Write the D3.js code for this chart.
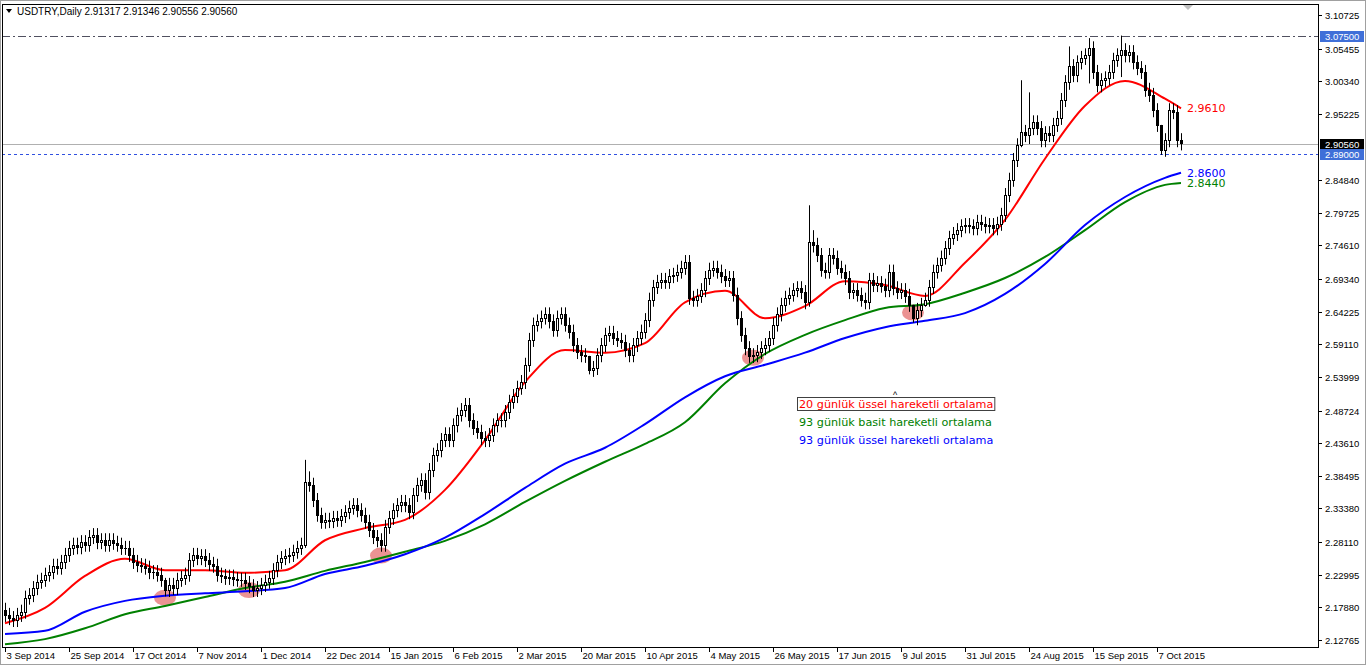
<!DOCTYPE html>
<html><head><meta charset="utf-8">
<script src="https://cdn.jsdelivr.net/npm/d3@7"></script>
<style>body{margin:0;background:#fff}svg{display:block}</style>
</head><body>
<svg id="c" width="1366" height="665"></svg>
<script>
const closes=[2.167,2.162,2.159,2.167,2.172,2.194,2.198,2.209,2.219,2.222,2.230,2.234,2.244,2.241,2.250,2.261,2.272,2.277,2.273,2.281,
2.277,2.289,2.292,2.281,2.284,2.277,2.284,2.280,2.277,2.272,2.272,2.261,2.250,2.245,2.244,2.241,2.234,2.234,2.230,2.222,
2.206,2.214,2.209,2.222,2.225,2.230,2.253,2.261,2.256,2.259,2.253,2.247,2.244,2.230,2.228,2.225,2.227,2.223,2.222,2.222,
2.217,2.212,2.206,2.209,2.214,2.219,2.225,2.237,2.250,2.256,2.259,2.261,2.266,2.272,2.277,2.375,2.371,2.347,2.324,2.313,
2.316,2.314,2.319,2.316,2.322,2.328,2.335,2.339,2.331,2.324,2.313,2.300,2.289,2.284,2.277,2.305,2.319,2.331,2.339,2.344,
2.339,2.328,2.355,2.371,2.378,2.359,2.394,2.418,2.425,2.441,2.450,2.441,2.464,2.481,2.488,2.496,2.472,2.460,2.454,2.444,
2.441,2.449,2.464,2.472,2.472,2.485,2.501,2.510,2.523,2.532,2.559,2.598,2.622,2.627,2.633,2.638,2.627,2.614,2.633,2.638,
2.622,2.611,2.590,2.579,2.574,2.573,2.551,2.554,2.574,2.590,2.606,2.609,2.601,2.598,2.595,2.582,2.574,2.590,2.601,2.611,
2.629,2.661,2.681,2.689,2.692,2.689,2.698,2.700,2.705,2.711,2.720,2.664,2.661,2.667,2.676,2.695,2.708,2.711,2.705,2.698,
2.692,2.695,2.669,2.632,2.606,2.585,2.573,2.574,2.579,2.585,2.590,2.601,2.622,2.638,2.653,2.664,2.669,2.676,2.679,2.673,
2.657,2.751,2.747,2.731,2.708,2.705,2.731,2.727,2.711,2.705,2.695,2.673,2.676,2.669,2.661,2.657,2.692,2.684,2.687,2.683,
2.676,2.705,2.679,2.673,2.676,2.667,2.653,2.632,2.645,2.653,2.661,2.681,2.705,2.716,2.727,2.742,2.758,2.764,2.770,2.776,
2.778,2.776,2.773,2.783,2.780,2.776,2.778,2.773,2.780,2.794,2.825,2.849,2.880,2.903,2.924,2.919,2.930,2.939,2.930,2.911,
2.922,2.919,2.935,2.946,2.974,3.002,3.027,3.013,3.033,3.040,3.044,3.055,3.018,2.997,3.005,3.008,3.018,3.037,3.044,3.052,
3.044,3.049,3.033,3.024,3.018,2.990,2.982,2.958,2.935,2.896,2.911,2.958,2.955,2.911,2.906];
const firstOpen=2.175;
const wickIdx=[40,75,76,146,201,202,254,256,266,271,279,289,230,227];
const wickHigh=[2.225,2.410,2.392,2.566,2.809,2.770,3.005,2.986,3.058,3.071,3.075,2.935,2.672,2.652];
const wickLow=[2.196,2.272,2.360,2.544,2.650,2.735,2.900,2.905,2.990,3.000,3.010,2.888,2.650,2.625];
const maIdx=[0,10,20,30,40,50,60,70,80,90,100,110,120,130,140,150,160,170,180,190,200,210,220,230,240,250,260,270,280,290,294];
const ema20=[2.154,2.178,2.228,2.255,2.237,2.237,2.233,2.237,2.284,2.303,2.316,2.363,2.441,2.532,2.582,2.578,2.593,2.657,2.675,2.632,2.651,2.690,2.684,2.667,2.719,2.786,2.882,2.965,3.004,2.976,2.961];
const ema93=[2.137,2.142,2.172,2.189,2.197,2.201,2.204,2.209,2.231,2.244,2.262,2.288,2.325,2.366,2.404,2.429,2.466,2.508,2.541,2.559,2.578,2.601,2.618,2.628,2.640,2.670,2.717,2.778,2.822,2.852,2.860];
const sma93=[2.121,2.129,2.146,2.168,2.181,2.195,2.209,2.219,2.236,2.250,2.266,2.283,2.309,2.344,2.377,2.407,2.435,2.469,2.530,2.576,2.606,2.629,2.648,2.654,2.672,2.695,2.728,2.770,2.814,2.841,2.844];
const priceTicks=[3.10725,3.05455,3.00340,2.95225,2.84840,2.79725,2.74610,2.69340,2.64225,2.59110,2.53999,2.48724,2.43610,2.38495,2.33380,2.28110,2.22995,2.17880,2.12765];
const dateIdx=[0,16,32,48,64,80,96,112,128,144,160,176,192,208,224,240,256,272,288];
const dateLabels=["3 Sep 2014","25 Sep 2014","17 Oct 2014","7 Nov 2014","1 Dec 2014","22 Dec 2014","15 Jan 2015","6 Feb 2015","2 Mar 2015","20 Mar 2015","10 Apr 2015","4 May 2015","26 May 2015","17 Jun 2015","9 Jul 2015","31 Jul 2015","24 Aug 2015","15 Sep 2015","7 Oct 2015"];
const circleIdx=[40,61,94,187,227];
const circlePrice=[2.194,2.206,2.260,2.570,2.641];
const hLines={resist:3.075,support:2.890,last:2.9056};
const legend=[["20 günlük üssel hareketli ortalama","#ff0000"],["93 günlük basit hareketli ortalama","#008000"],["93 günlük üssel hareketli ortalama","#0000ff"]];

const svg=d3.select("#c");
const L=2,R=1318,T=4,B=647;
const x=d3.scaleLinear().domain([0,294]).range([5,1181]);
const y=d3.scaleLinear().domain([2.12765,3.10725]).range([640,15]);
const font="'Liberation Sans',Arial,sans-serif";
svg.append("rect").attr("x",0.5).attr("y",0.5).attr("width",1365).attr("height",664).attr("fill","#fff").attr("stroke","#a0a0a0");
svg.append("rect").attr("x",L+0.5).attr("y",T+0.5).attr("width",R-L).attr("height",B-T).attr("fill","none").attr("stroke","#000");
const g=svg.append("g");
g.append("clipPath").attr("id","cp").append("rect").attr("x",L+1).attr("y",T+1).attr("width",R-L-1).attr("height",B-T-1);
const pg=g.append("g").attr("clip-path","url(#cp)");

pg.append("line").attr("x1",L).attr("x2",R).attr("y1",Math.round(y(hLines.resist))+0.5).attr("y2",Math.round(y(hLines.resist))+0.5).attr("stroke","#505060").attr("stroke-dasharray","8,3,2,3");
pg.append("line").attr("x1",L).attr("x2",R).attr("y1",Math.round(y(hLines.last))+0.5).attr("y2",Math.round(y(hLines.last))+0.5).attr("stroke","#b0b0b0");
pg.append("line").attr("x1",L).attr("x2",R).attr("y1",Math.round(y(hLines.support))+0.5).attr("y2",Math.round(y(hLines.support))+0.5).attr("stroke","#3050e0").attr("stroke-dasharray","3,3");

circleIdx.forEach((d,i)=>pg.append("ellipse").attr("cx",x(d)).attr("cy",y(circlePrice[i])).attr("rx",11).attr("ry",8).attr("fill","#e88080").attr("opacity",0.85));

const mk=(arr,col)=>pg.append("path").datum(arr.map((v,i)=>[maIdx[i],v])).attr("fill","none").attr("stroke",col).attr("stroke-width",2)
 .attr("d",d3.line().x(d=>x(d[0])).y(d=>y(d[1])).curve(d3.curveMonotoneX));
mk(sma93,"#008000");mk(ema93,"#0000ff");mk(ema20,"#ff0000");

const defW=0.011;
closes.forEach((c,i)=>{
  const o=i===0?firstOpen:closes[i-1];
  const k=wickIdx.indexOf(i);
  let h=Math.max(o,c)+defW,l=Math.min(o,c)-defW;
  if(k>=0){h=Math.max(wickHigh[k],Math.max(o,c));l=Math.min(wickLow[k],Math.min(o,c));}
  const cx=Math.round(x(i))+0.5;
  pg.append("line").attr("x1",cx).attr("x2",cx).attr("y1",y(h)).attr("y2",y(l)).attr("stroke","#000");
  const top=Math.round(y(Math.max(o,c))),bot=Math.round(y(Math.min(o,c)));
  pg.append("rect").attr("x",cx-1).attr("y",top+0.5).attr("width",2).attr("height",Math.max(bot-top,0.01))
   .attr("fill",c>=o?"#fff":"#000").attr("stroke","#000");
});

[[ema20,"#ff0000","2.9610"],[ema93,"#0000ff","2.8600"],[sma93,"#008000","2.8440"]].forEach(([a,col,t])=>{
  g.append("text").attr("x",1187).attr("y",y(a[a.length-1])+4).attr("fill",col).attr("font-family","'DejaVu Sans',sans-serif").attr("font-size",11).text(t);
});

legend.forEach(([t,col],i)=>{
  const tx=g.append("text").attr("x",799).attr("y",408+i*18).attr("fill",col).attr("font-family","'DejaVu Sans',sans-serif").attr("font-size",11.2).text(t);
  if(i===0){const bb=tx.node().getBBox();g.insert("rect","text").attr("x",797.5).attr("y",397.5).attr("width",bb.width+3).attr("height",13).attr("fill","#fff").attr("stroke","#404040");}
});
g.append("text").attr("x",893).attr("y",398).attr("font-size",9).attr("fill","#000").attr("font-family",font).text("^");

priceTicks.forEach(v=>{
  const yy=Math.round(y(v))+0.5;
  g.append("line").attr("x1",R).attr("x2",R+4).attr("y1",yy).attr("y2",yy).attr("stroke","#000");
  g.append("text").attr("x",R+7).attr("y",yy+3.5).attr("font-family",font).attr("font-size",9.5).attr("fill","#000").text(v.toFixed(5));
});
const tag=(v,bg,txt)=>{const yy=Math.round(y(v));
  g.append("rect").attr("x",R+2).attr("y",yy-5).attr("width",44).attr("height",11).attr("fill",bg);
  g.append("text").attr("x",R+7).attr("y",yy+4).attr("font-family",font).attr("font-size",9.5).attr("fill","#fff").text(txt);};
tag(hLines.resist,"#3f6fd8","3.07500");tag(hLines.last,"#000","2.90560");tag(hLines.support,"#3f6fd8","2.89000");

dateIdx.forEach((d,i)=>{
  const xx=Math.round(x(d))+0.5;
  g.append("line").attr("x1",xx).attr("x2",xx).attr("y1",B).attr("y2",B+5).attr("stroke","#000");
  g.append("text").attr("x",xx+1).attr("y",B+12).attr("font-family",font).attr("font-size",9.5).attr("fill","#000").text(dateLabels[i]);
});

g.append("path").attr("d","M6,9 L12,9 L9,13 Z").attr("fill","#000");
g.append("text").attr("x",17).attr("y",15).attr("font-family",font).attr("font-size",10).attr("fill","#000").text("USDTRY,Daily  2.91317 2.91346 2.90556 2.90560");
g.append("path").attr("d","M1183,5 L1193,5 L1188,10 Z").attr("fill","#c0c0c0");
</script>
</body></html>
